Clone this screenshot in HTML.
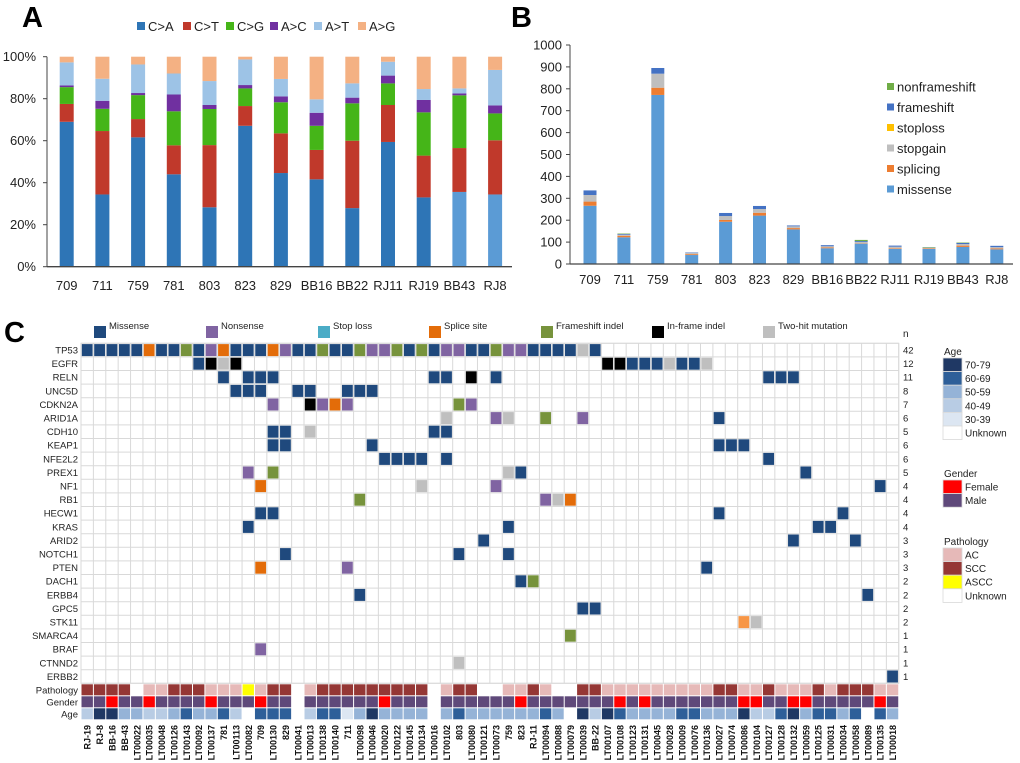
<!DOCTYPE html>
<html><head><meta charset="utf-8"><style>
html,body{margin:0;padding:0;background:#fff;}
svg{display:block;font-family:"Liberation Sans",Arial,sans-serif;}
</style></head><body>
<svg id="fig" width="1020" height="763" viewBox="0 0 1020 763" xmlns="http://www.w3.org/2000/svg">
<g id="panelA"></g>
<g id="panelB"></g>
<g id="panelC"></g>
</svg>
<script>
// ---------- Panel A data ----------
const aCategories = ["709","711","759","781","803","823","829","BB16","BB22","RJ11","RJ19","BB43","RJ8"];
const aSeriesNames = ["C>A","C>T","C>G","A>C","A>T","A>G"];
const aCA = [69,34.4,61.6,44,28.3,67.1,44.6,41.6,27.9,59.4,33,35.6,34.4];
const aCT = [8.5,30.2,8.7,13.8,29.6,9.4,18.9,14,32.1,17.6,19.9,20.9,25.8];
const aCG = [8,10.6,11.4,16.2,17.2,8.4,14.8,11.5,17.8,10.3,20.6,25.1,12.8];
const aAC = [0.8,3.8,1.0,8,1.9,1.6,2.8,6.2,2.7,3.7,5.9,0.9,3.8];
const aAT = [11,10.5,13.6,10,11.4,12.2,8.3,6.4,6.8,6.6,5.2,2.4,16.9];
const aAG = [2.7,10.5,3.7,8,11.6,1.3,10.6,20.3,12.7,2.4,15.4,15.1,6.3];
const aTicks = ["0%","20%","40%","60%","80%","100%"];
const aTickVals = [0,20,40,60,80,100];
// ---------- Panel B data ----------
const bCategories = ["709","711","759","781","803","823","829","BB16","BB22","RJ11","RJ19","BB43","RJ8"];
const bSeriesNames = ["missense","splicing","stopgain","stoploss","frameshift","nonframeshift"];
const bMissense = [266,122,772,41,193,221,158,72,93,69,69,78,67];
const bSplicing = [19,7,33,4,8,13,6,4,2,3,3,6,4];
const bStopgain = [30,5,64,6,18,17,8,5,6,7,2,7,6];
const bStoploss = [0,0,0,0,0,0,0,0,0,0,0,0,0];
const bFrameshift = [21,3,26,2,14,14,4,5,4,5,1,5,6];
const bNonframeshift = [0,2,0,0,0,0,0,0,5,0,2,2,0];
const bTickVals = [0,100,200,300,400,500,600,700,800,900,1000];
// ---------- Panel C data ----------
const cSamples = ["RJ-19","RJ-8","BB-16","BB-43","LT00022","LT00035","LT00048","LT00126","LT00143","LT00092","LT00137","781","LT00113","LT00082","709","LT00130","829","LT00041","LT00013","LT00138","LT00140","711","LT00098","LT00046","LT00020","LT00122","LT00145","LT00134","LT00016","LT00102","803","LT00080","LT00121","LT00073","759","823","RJ-11","LT00094","LT00088","LT00079","LT00039","BB-22","LT00107","LT00108","LT00123","LT00131","LT00045","LT00028","LT00009","LT00076","LT00136","LT00027","LT00074","LT00086","LT00104","LT00127","LT00128","LT00132","LT00059","LT00125","LT00031","LT00034","LT00058","LT00089","LT00135","LT00018"];
const cGenes = ["TP53","EGFR","RELN","UNC5D","CDKN2A","ARID1A","CDH10","KEAP1","NFE2L2","PREX1","NF1","RB1","HECW1","KRAS","ARID2","NOTCH1","PTEN","DACH1","ERBB4","GPC5","STK11","SMARCA4","BRAF","CTNND2","ERBB2"];
const cCounts = [42,12,11,8,7,6,5,6,6,5,4,4,4,4,3,3,3,2,2,2,2,1,1,1,1];
const cMutations = [
"0:M 1:M 2:M 3:M 4:M 5:S 6:M 7:M 8:F 9:M 10:N 11:S 12:M 13:M 14:M 15:S 16:N 17:M 18:M 19:F 20:M 21:M 22:F 23:N 24:N 25:F 26:M 27:F 28:M 29:N 30:N 31:M 32:M 33:F 34:N 35:N 36:M 37:M 38:M 39:M 40:T 41:M",
"9:M 10:I 11:T 12:I 42:I 43:I 44:M 45:M 46:M 47:T 48:M 49:M 50:T",
"11:M 13:M 14:M 15:M 28:M 29:M 31:I 33:M 55:M 56:M 57:M",
"12:M 13:M 14:M 17:M 18:M 21:M 22:M 23:M",
"15:N 18:I 19:N 20:S 21:N 30:F 31:N",
"29:T 33:N 34:T 37:F 40:N 51:M",
"15:M 16:M 18:T 28:M 29:M",
"15:M 16:M 23:M 51:M 52:M 53:M",
"24:M 25:M 26:M 27:M 29:M 55:M",
"13:N 15:F 34:T 35:M 58:M",
"14:S 27:T 33:N 64:M",
"22:F 37:N 38:T 39:S",
"14:M 15:M 51:M 61:M",
"13:M 34:M 59:M 60:M",
"32:M 57:M 62:M",
"16:M 30:M 34:M",
"14:S 21:N 50:M",
"35:M 36:F",
"22:M 63:M",
"40:M 41:M",
"53:O 54:T",
"39:F",
"14:N",
"30:T",
"65:M"];
const cPathology = "SSSS.AASSSAAAYASS.ASSSSSSSSS.ASS..AASA..SSAAAAAAAAASSAASAAASASSSAA";
const cGender = "MMFMMFMMMMFMMMFMM.MMMMMMFMMM.MMMMMMFMMMMMMMFMFMMMMMMMFFMMFFMMMMMFM";
const cAge = "4775544565564.666.4663575555.5655555565.74765555665557446756656.65";
</script>
<script>
const NS="http://www.w3.org/2000/svg";
function mk(tag,attrs,parent){const e=document.createElementNS(NS,tag);for(const k in attrs)e.setAttribute(k,attrs[k]);parent.appendChild(e);return e;}
function txt(s,attrs,parent){const e=mk("text",attrs,parent);e.textContent=s;return e;}

// ===== Panel A =====
(function(){
const g=document.getElementById("panelA");
const y0=266.7, yTop=56.7;
const yA=p=>y0-p*(y0-yTop)/100;
const xA=i=>66.7+i*35.7;
const t=txt("A",{x:22,y:27,"font-size":29,"font-weight":"bold"},g);


const colors=["#2e75b6","#c0392b","#45b518","#7030a0","#9dc3e6","#f4b183"];
const series=[aCA,aCT,aCG,aAC,aAT,aAG];
aTickVals.forEach((v,i)=>{
  const l=txt(aTicks[i],{x:36,y:yA(v)+4.5,"font-size":13,"text-anchor":"end",fill:"#222"},g);
  
  
  mk("line",{x1:43,x2:47,y1:yA(v),y2:yA(v),stroke:"#444","stroke-width":1},g);
});
aCategories.forEach((c,i)=>{
  let acc=0;
  series.forEach((s,k)=>{
    let col=colors[k];
    if(k===0&&(c==="BB43"||c==="RJ8"))col="#5b9bd5";
    const r=mk("rect",{x:xA(i)-7,y:yA(acc+s[i]),width:14,height:yA(acc)-yA(acc+s[i]),fill:col},g);
    
    
    acc+=s[i];
  });
  const l=txt(c,{x:xA(i),y:290,"font-size":13,"text-anchor":"middle",fill:"#222"},g);
  
  
});
mk("line",{x1:47,x2:47,y1:yTop,y2:y0,stroke:"#444","stroke-width":1},g);
mk("line",{x1:47,x2:512,y1:y0,y2:y0,stroke:"#444","stroke-width":1.3},g);
const lx=[137,183,226,270,314,358];
aSeriesNames.forEach((n,k)=>{
  const r=mk("rect",{x:lx[k],y:22,width:8,height:8,fill:colors[k]},g);
  
  
  const l=txt(n,{x:lx[k]+11,y:31,"font-size":13,fill:"#222"},g);
  
  
});
})();

// ===== Panel B =====
(function(){
const g=document.getElementById("panelB");
const y0=264, yTop=45;
const yB=v=>y0-v*(y0-yTop)/1000;
const xB=i=>590+i*33.9;
const t=txt("B",{x:511,y:27,"font-size":29,"font-weight":"bold"},g);


const colors=["#5b9bd5","#ed7d31","#bfbfbf","#ffc000","#4472c4","#70ad47"];
const series=[bMissense,bSplicing,bStopgain,bStoploss,bFrameshift,bNonframeshift];
bTickVals.forEach(v=>{
  const l=txt(String(v),{x:562,y:yB(v)+4.5,"font-size":13,"text-anchor":"end",fill:"#222"},g);
  
  
  mk("line",{x1:566,x2:570,y1:yB(v),y2:yB(v),stroke:"#444","stroke-width":1},g);
});
bCategories.forEach((c,i)=>{
  let acc=0;
  series.forEach((s,k)=>{
    if(s[i]<=0)return;
    const r=mk("rect",{x:xB(i)-6.5,y:yB(acc+s[i]),width:13,height:yB(acc)-yB(acc+s[i]),fill:colors[k]},g);
    
    
    acc+=s[i];
  });
  const l=txt(c,{x:xB(i),y:284,"font-size":13,"text-anchor":"middle",fill:"#222"},g);
  
  
});
mk("line",{x1:570,x2:570,y1:yTop,y2:y0,stroke:"#444","stroke-width":1},g);
mk("line",{x1:570,x2:1013,y1:y0,y2:y0,stroke:"#444","stroke-width":1.3},g);
const order=[5,4,3,2,1,0];
order.forEach((k,j)=>{
  const yy=87+j*20.5;
  const r=mk("rect",{x:887,y:yy-4,width:7,height:7,fill:colors[k]},g);
  
  
  const l=txt(bSeriesNames[k],{x:897,y:yy+4.5,"font-size":13,fill:"#222"},g);
  
  
});
})();

// ===== Panel C =====
(function(){
const g=document.getElementById("panelC");
const X0=81, CW=12.39, Y0=343.3, RH=13.6, AH=12;
const colX=k=>X0+k*CW;
const rowY=r=>Y0+r*RH;
const annY0=rowY(cGenes.length)+0.5;
const mutColors={M:"#1f497d",N:"#8064a2",S:"#e36c09",F:"#77933c",I:"#000000",T:"#bfbfbf",L:"#4bacc6",O:"#f79646"};
const t=txt("C",{x:4,y:342,"font-size":29,"font-weight":"bold"},g);


const legItems=[["Missense","M",94],["Nonsense","N",206],["Stop loss","L",318],["Splice site","S",429],["Frameshift indel","F",541],["In-frame indel","I",652],["Two-hit mutation","T",763]];
legItems.forEach(it=>{
  const r=mk("rect",{x:it[2],y:326,width:12,height:12,fill:mutColors[it[1]]},g);
  
  
  const l=txt(it[0],{x:it[2]+15,y:329,"font-size":9.5,fill:"#222"},g);
  
  
});
const totalW=CW*cSamples.length;
mk("rect",{x:X0,y:Y0,width:totalW,height:cGenes.length*RH,fill:"#fff",stroke:"#d9d9d9","stroke-width":1},g);
for(let r=0;r<=cGenes.length;r++)mk("line",{x1:X0,x2:X0+totalW,y1:rowY(r),y2:rowY(r),stroke:"#d9d9d9","stroke-width":1},g);
for(let k=0;k<=cSamples.length;k++)mk("line",{x1:colX(k),x2:colX(k),y1:Y0,y2:rowY(cGenes.length),stroke:"#d9d9d9","stroke-width":1},g);
cGenes.forEach((gn,r)=>{
  const l=txt(gn,{x:78,y:rowY(r)+10.2,"font-size":9.5,"text-anchor":"end",fill:"#222"},g);
  
  
  const n=txt(String(cCounts[r]),{x:903,y:rowY(r)+10.2,"font-size":9.5,fill:"#222"},g);
  
  
  cMutations[r].split(" ").forEach(tok=>{
    const p=tok.split(":");const k=+p[0];
    const c=mk("rect",{x:colX(k)+0.8,y:rowY(r)+0.8,width:CW-1.6,height:RH-1.6,fill:mutColors[p[1]]},g);
    
    
  });
});
const nlab=txt("n",{x:903,y:337,"font-size":10,fill:"#222"},g);


const pathCol={S:"#953735",A:"#e6b9b8",Y:"#ffff00"};
const genCol={M:"#5f497a",F:"#ff0000"};
const ageCol={"7":"#1f3864","6":"#2e5f99","5":"#95b3d7","4":"#b8cce4","3":"#dce6f2"};
const annRows=[["Pathology",cPathology,pathCol],["Gender",cGender,genCol],["Age",cAge,ageCol]];
annRows.forEach((a,j)=>{
  const yy=annY0+j*AH;
  const l=txt(a[0],{x:78,y:yy+9.5,"font-size":9.5,"text-anchor":"end",fill:"#222"},g);
  
  
  for(let k=0;k<cSamples.length;k++){
    const ch=a[1][k];
    if(!a[2][ch])continue;
    const c=mk("rect",{x:colX(k)+0.5,y:yy+0.5,width:CW-1,height:AH-1,fill:a[2][ch]},g);
    
    
  }
});
cSamples.forEach((s,k)=>{
  const cx=colX(k)+CW/2+3.5;
  const l=txt(s,{x:0,y:0,"font-size":9,"font-weight":"bold","text-anchor":"end",fill:"#111",transform:"translate("+cx+",725) rotate(-90)"},g);
  
  
});
function legBlock(title,ty,items,y0){
  const tl=txt(title,{x:944,y:ty,"font-size":10,fill:"#222"},g);
  
  
  items.forEach((it,i)=>{
    const yy=y0+i*13.6;
    const r=mk("rect",{x:943,y:yy,width:19,height:13.6,fill:it[1],stroke:"#d9d9d9","stroke-width":0.8},g);
    
    
    const l=txt(it[0],{x:965,y:yy+10.5,"font-size":10,fill:"#222"},g);
    
    
  });
}
legBlock("Age",355,[["70-79","#1f3864"],["60-69","#2e5f99"],["50-59","#95b3d7"],["40-49","#b8cce4"],["30-39","#dce6f2"],["Unknown","#ffffff"]],358);
legBlock("Gender",477,[["Female","#ff0000"],["Male","#5f497a"]],480);
legBlock("Pathology",545,[["AC","#e6b9b8"],["SCC","#953735"],["ASCC","#ffff00"],["Unknown","#ffffff"]],548);
})();
</script>
</body></html>
